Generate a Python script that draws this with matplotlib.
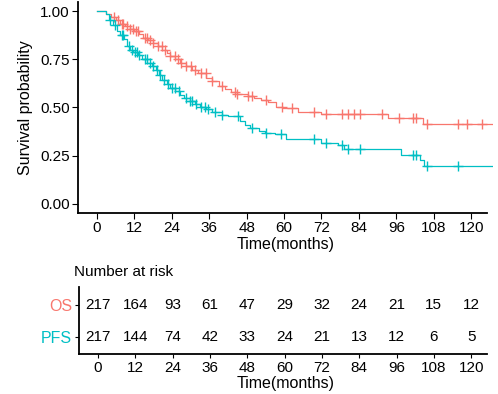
import numpy as np
import matplotlib
matplotlib.use("Agg")
import matplotlib.pyplot as plt

plt.rcParams['font.family'] = ['Liberation Sans', 'DejaVu Sans']

# ---- data ----
os_times = [0, 2.9, 4.5, 6, 7.3, 9, 10.5, 12, 13.5, 14.7, 16.5, 17.9, 19.5, 21, 22.3, 23.3,
            25, 26.5, 28.5, 30.6, 32.5, 35, 37, 39, 41, 43, 45, 48.5, 50.4, 52.5, 55, 57.5,
            59.5, 64.6, 71.7, 93.4, 104.7]
os_surv = [1.0, 0.985, 0.97, 0.955, 0.935, 0.92, 0.905, 0.895, 0.88, 0.86, 0.85, 0.835, 0.82,
           0.80, 0.78, 0.765, 0.75, 0.73, 0.715, 0.695, 0.68, 0.655, 0.635, 0.61, 0.595, 0.58,
           0.57, 0.56, 0.55, 0.54, 0.53, 0.505, 0.497, 0.477, 0.466, 0.445, 0.415]
os_censor = [5.4, 6.7, 8, 8.3, 9.6, 10.5, 11.5, 12.4, 13.1, 15.3, 15.9, 16.9, 17.9, 19.5, 20.7,
             21.7, 23.3, 24.9, 25.9, 27.1, 28.7, 30.3, 31.3, 33.5, 34.8, 37, 40.2, 44.4, 45,
             48.5, 49.8, 54.3, 59.4, 62.6, 69.6, 73.5, 78.7, 80.6, 82.5, 84.4, 91.5, 96.8,
             101.5, 102.2, 105.7, 115.8, 118.7, 123.4]

pfs_times = [0, 2.9, 4, 5, 6.3, 7.3, 8.5, 9.5, 10.5, 11.5, 13, 14.5, 16, 17.5, 19, 20, 21,
             22.5, 23.3, 25, 26.5, 28, 29.7, 31.5, 33, 35, 37, 40, 42, 46, 47.5, 49, 52, 54,
             57, 60.5, 71.7, 77.4, 79.3, 97.4, 103.5, 105]
pfs_surv = [1.0, 0.985, 0.955, 0.93, 0.895, 0.875, 0.855, 0.82, 0.80, 0.79, 0.77, 0.75, 0.73,
            0.715, 0.695, 0.67, 0.645, 0.62, 0.60, 0.585, 0.565, 0.55, 0.535, 0.52, 0.50, 0.49,
            0.475, 0.46, 0.455, 0.43, 0.41, 0.395, 0.38, 0.37, 0.36, 0.335, 0.316, 0.305, 0.283,
            0.254, 0.228, 0.197]
pfs_censor = [4.1, 5.7, 8, 8.3, 10.2, 11.2, 12.1, 12.8, 13.4, 15.3, 15.9, 16.9, 17.9, 19.2,
              20.1, 21.4, 22.7, 23.9, 24.9, 26.2, 28.7, 29.7, 30.6, 31.9, 33.5, 34.5, 35.7,
              37.7, 40.2, 45.3, 49.8, 54.3, 59, 69.7, 73.5, 78.7, 80.6, 84.4, 101.2, 102.2,
              105.7, 115.8]
t_end = 127.0

time_ticks = [0, 12, 24, 36, 48, 60, 72, 84, 96, 108, 120]
os_risk = [217, 164, 93, 61, 47, 29, 32, 24, 21, 15, 12]
pfs_risk = [217, 144, 74, 42, 33, 24, 21, 13, 12, 6, 5]

red = '#F8766D'
teal = '#00BFC4'

fig = plt.figure(figsize=(4.98, 3.94), dpi=100)

# ---- survival curves ----
ax = fig.add_axes([0.1566, 0.4594, 0.8333, 0.5356])


def draw_km(times, surv, censor, color):
    t = np.append(times, t_end)
    s = np.append(surv, surv[-1])
    ax.step(t, s, where='post', color=color, lw=0.9)
    idx = np.searchsorted(times, censor, side='right') - 1
    ax.plot(censor, np.array(surv)[idx], ls='none', marker='+', color=color,
            markersize=7, mew=1.0)


draw_km(os_times, os_surv, os_censor, red)
draw_km(pfs_times, pfs_surv, pfs_censor, teal)

ax.set_xlim(-6.1, t_end)
ax.set_ylim(-0.047, 1.047)
ax.set_xticks(time_ticks)
ax.set_yticks([0, 0.25, 0.5, 0.75, 1.0])
ax.set_yticklabels(['0.00', '0.25', '0.50', '0.75', '1.00'])
ax.set_xlabel('Time(months)', fontsize=11.5, labelpad=1)
ax.set_ylabel('Survival probability', fontsize=11.5, labelpad=5)
for sp in ['top', 'right']:
    ax.spines[sp].set_visible(False)
for sp in ['left', 'bottom']:
    ax.spines[sp].set_linewidth(1.3)
ax.spines['bottom'].set_bounds(-6.1, 125.1)
ax.tick_params(labelsize=11, length=4, width=0.8, colors='black', pad=2)

# ---- number at risk table ----
tab = fig.add_axes([0.1586, 0.1015, 0.8313, 0.170])
for x, a, b in zip(time_ticks, os_risk, pfs_risk):
    tab.text(x, 1, str(a), ha='center', va='center', fontsize=11)
    tab.text(x, 0, str(b), ha='center', va='center', fontsize=11)
tab.set_xlim(-6.1, t_end)
tab.set_ylim(-0.53, 1.56)
tab.set_xticks(time_ticks)
tab.set_yticks([0, 1])
tab.set_yticklabels(['PFS', 'OS'])
tab.get_yticklabels()[0].set_color(teal)
tab.get_yticklabels()[1].set_color(red)
tab.set_xlabel('Time(months)', fontsize=11.5, labelpad=0.5)
for sp in ['top', 'right']:
    tab.spines[sp].set_visible(False)
for sp in ['left', 'bottom']:
    tab.spines[sp].set_linewidth(1.3)
tab.spines['bottom'].set_bounds(-6.1, 125.1)
tab.tick_params(labelsize=11, length=3, width=0.8, pad=2)
tab.tick_params(axis='y', labelsize=11.5)
tab.set_title('Number at risk', fontsize=11, loc='left', x=-0.013, pad=8)

fig.savefig('out.png', dpi=100)
